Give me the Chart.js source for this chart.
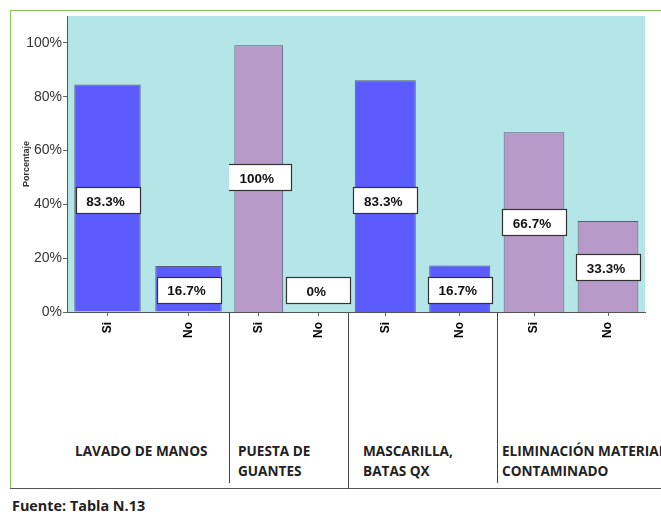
<!DOCTYPE html>
<html><head><meta charset="utf-8">
<script src="https://cdn.jsdelivr.net/npm/chart.js@4/dist/chart.umd.min.js"></script>
<style>
html,body{margin:0;padding:0}
body{width:661px;height:514px;overflow:hidden;background:#fff;position:relative}
.abs{position:absolute}
#plotbg{left:67px;top:16px;width:578px;height:296px;background:#b4e5e7}
#gTop{left:10px;top:10px;width:651px;height:0;border-top:1.5px solid #86c55e}
#gLeft{left:10px;top:10px;width:0;height:479px;border-left:1.5px solid #86c55e}
#hLine{left:10px;top:488px;width:651px;height:0;border-top:1px solid #555}
.sep{width:0;border-left:1px solid #444;top:312px}
.glab{font-family:'Open Sans','Lato',sans-serif;font-weight:bold;font-size:13.6px;line-height:20px;color:#222;white-space:nowrap}
#fuente{left:12px;top:497px;font-family:'Open Sans','Lato',sans-serif;font-weight:bold;font-size:14.4px;line-height:18px;color:#222;white-space:nowrap}
canvas{position:absolute}
</style></head>
<body>
<div id="plotbg" class="abs"></div>
<div id="gTop" class="abs"></div>
<div id="gLeft" class="abs"></div>
<div id="hLine" class="abs"></div>
<div class="abs sep" style="left:229px;height:171px"></div>
<div class="abs sep" style="left:348px;height:177px"></div>
<div class="abs sep" style="left:497px;height:171px"></div>
<div id="fuente" class="abs"></div>
<script>
// ---- data ----
const groups = [['LAVADO DE MANOS'], ['PUESTA DE', 'GUANTES'], ['MASCARILLA,', 'BATAS QX'], ['ELIMINACIÓN MATERIAL', 'CONTAMINADO']];
const responses = ['Si', 'No'];
const siPct = [84.5, 99.1, 86.1, 66.8];
const noPct = [17.1, 0, 17.3, 33.8];
const siText = ['83.3%', '100%', '83.3%', '66.7%'];
const noText = ['16.7%', '0%', '16.7%', '33.3%'];
const yTicks = [0, 20, 40, 60, 80, 100];
const sourceNote = 'Fuente: Tabla N.13';

// ---- styles / layout ----
const panelEdges = [11, 229, 348, 497, 645];
const groupLabelLeft = [75, 238, 363, 502];
const barColors = ['#5b5bff', '#b89ac8', '#5b5bff', '#b89ac8'];

document.getElementById('fuente').textContent = sourceNote;

groups.forEach((lines, k) => {
  const d = document.createElement('div');
  d.className = 'abs glab';
  d.style.left = groupLabelLeft[k] + 'px';
  d.style.top = '441px';
  d.innerHTML = lines.map(s => s.replace(/&/g, '&amp;')).join('<br>');
  document.body.appendChild(d);
});

const boxPlugin = {
  id: 'boxes',
  afterDatasetsDraw(chart, args, opts) {
    const ctx = chart.ctx, xs = chart.scales.x, ys = chart.scales.y;
    opts.texts.forEach((t, i) => {
      const v = parseFloat(t);
      const cx = xs.getPixelForValue(i);
      const cy = ys.getPixelForValue(Math.max(v / 2, 8));
      const w = 64, h = 26;
      ctx.save();
      ctx.fillStyle = '#fff';
      ctx.strokeStyle = '#333';
      ctx.lineWidth = 1.2;
      ctx.fillRect(Math.round(cx - w / 2) + 0.5, Math.round(cy - h / 2) + 0.5, w, h);
      ctx.strokeRect(Math.round(cx - w / 2) + 0.5, Math.round(cy - h / 2) + 0.5, w, h);
      ctx.fillStyle = '#111';
      ctx.font = "bold 13.5px 'Liberation Sans', Arial, sans-serif";
      ctx.textAlign = 'center';
      ctx.textBaseline = 'middle';
      ctx.fillText(t, cx - 2, cy + 2);
      ctx.restore();
    });
  }
};

for (let k = 0; k < groups.length; k++) {
  const cv = document.createElement('canvas');
  const left = panelEdges[k];
  const w = panelEdges[k + 1] - left + 12;
  cv.width = w; cv.height = 330;
  cv.style.left = left + 'px'; cv.style.top = '16px';
  cv.style.width = w + 'px'; cv.style.height = '330px';
  document.body.appendChild(cv);
  const isFirst = k === 0;
  new Chart(cv, {
    type: 'bar',
    data: {
      labels: responses,
      datasets: [{
        data: [siPct[k], noPct[k]],
        backgroundColor: barColors[k],
        borderColor: 'rgba(70,70,100,0.85)',
        borderWidth: 1,
        barPercentage: 0.82,
        categoryPercentage: 1
      }]
    },
    options: {
      responsive: false,
      animation: false,
      devicePixelRatio: 1,
      layout: { padding: { right: 12, left: 0, top: 0, bottom: 0 } },
      plugins: {
        legend: { display: false },
        tooltip: { enabled: false },
        boxes: { texts: [siText[k], noText[k]] }
      },
      scales: {
        x: {
          offset: true,
          grid: { display: true, drawOnChartArea: false, drawTicks: true, tickLength: 4, offset: false, color: '#666' },
          border: { display: true, color: '#555', width: 1 },
          ticks: { minRotation: 90, maxRotation: 90, padding: 6, color: '#000',
                   font: { family: "'Liberation Sans', Arial, sans-serif", size: 12, weight: 'bold' } },
          afterFit(s) { s.height = 34; s.paddingLeft = 0; s.paddingRight = 0; }
        },
        y: {
          display: isFirst,
          min: 0, max: 110,
          afterBuildTicks(s) { s.ticks = yTicks.map(v => ({ value: v })); },
          grid: { drawOnChartArea: false, drawTicks: true, tickLength: 4, color: '#666' },
          border: { display: true, color: '#555', width: 1 },
          ticks: { padding: 1, color: '#333',
                   font: { family: "'Liberation Sans Narrow', 'Liberation Sans', sans-serif", size: 14 },
                   callback: v => v + '%' },
          title: { display: true, text: 'Porcentaje', color: '#333',
                   font: { family: "'Liberation Sans', Arial, sans-serif", size: 9, weight: 'bold' },
                   padding: { top: 10, bottom: 0 } },
          afterFit(s) {
            if (isFirst) { s.width = 56; } else { s.width = 0; }
            s.paddingTop = 0; s.paddingBottom = 0;
          }
        }
      }
    },
    plugins: [boxPlugin]
  });
}
</script>
</body></html>
